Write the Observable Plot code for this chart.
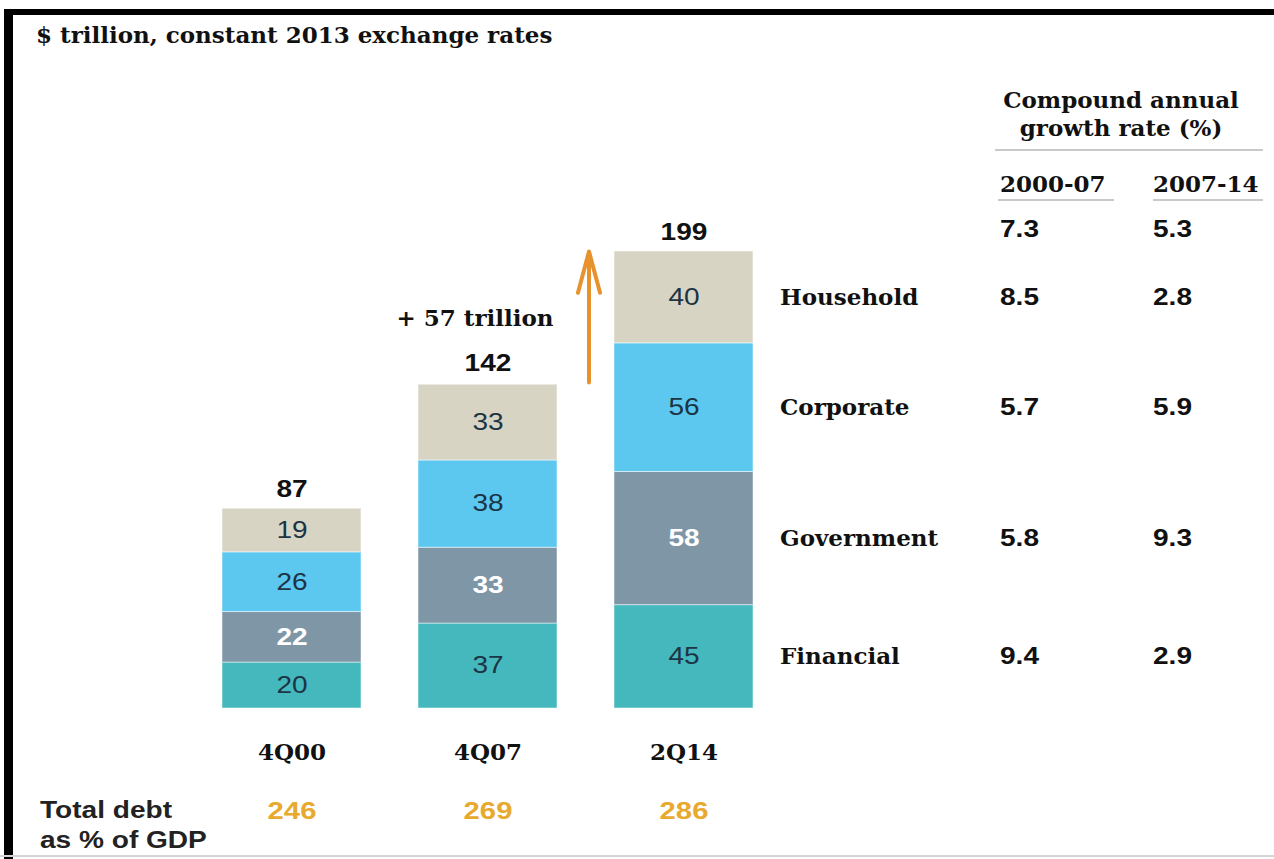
<!DOCTYPE html>
<html>
<head>
<meta charset="utf-8">
<script src="https://cdn.jsdelivr.net/npm/d3@7"></script>
<script src="https://cdn.jsdelivr.net/npm/@observablehq/plot@0.6"></script>
<style>
  body { margin: 0; background: #fff; }
  #wrap { position: relative; width: 1274px; height: 859px; overflow: hidden; background: #fff; }
  #wrap svg { position: absolute; left: 0; top: 0; }
  .slab { font-family: "DejaVu Serif", serif; font-weight: bold; color: #111; position: absolute; white-space: nowrap; font-size: 23px; line-height: 28px; }
  .sans { font-family: "Liberation Sans", Arial, sans-serif; font-weight: bold; color: #222; position: absolute; white-space: nowrap;
          transform: scaleX(1.22); transform-origin: left center; }
  .rule { position: absolute; height: 2px; background: #c9c9c9; }
  .edge { position: absolute; background: #000; }
</style>
</head>
<body>
<div id="wrap">
  <div class="edge" style="left:8px; top:9px; width:1266px; height:6px;"></div>
  <div class="edge" style="left:4px; top:9px; width:9px; height:850px;"></div>
  <div style="position:absolute; left:0; top:855px; width:1274px; height:2px; background:#d4d4d4;"></div>

  <div class="slab" style="left:36px; top:21px;">$ trillion, constant 2013 exchange rates</div>

  <div class="slab" style="left:996px; top:86px; width:250px; text-align:center;">Compound annual<br>growth rate (%)</div>
  <div class="rule" style="left:995px; top:149px; width:268px;"></div>
  <div class="slab" style="left:1000px; top:170px;">2000-07</div>
  <div class="slab" style="left:1153px; top:170px;">2007-14</div>
  <div class="rule" style="left:998px; top:199px; width:116px;"></div>
  <div class="rule" style="left:1153px; top:199px; width:110px;"></div>

  <div class="sans" style="left:40px; top:795px; font-size:23px; line-height:30px;">Total debt<br>as % of GDP</div>
</div>
<script>
// Global debt stock by sector, $ trillion at constant 2013 exchange rates
const periods = ["4Q00", "4Q07", "2Q14"];
const sectors = ["Financial", "Government", "Corporate", "Household"]; // bottom to top
const sectorColors = ["#44b8bd", "#7f96a7", "#5cc8ef", "#d8d4c4"];

const financial = [20, 37, 45];
const government = [22, 33, 58];
const corporate = [26, 38, 56];
const household = [19, 33, 40];
const totals = [87, 142, 199];

// Total debt as % of GDP
const debtToGdp = [246, 269, 286];

// Compound annual growth rate (%), listed in sector order, plus the total
const cagr2000to07 = [9.4, 5.8, 5.7, 8.5];
const cagr2007to14 = [2.9, 9.3, 5.9, 2.8];
const cagrTotal2000to07 = 7.3;
const cagrTotal2007to14 = 5.3;

const bySector = {Financial: financial, Government: government, Corporate: corporate, Household: household};
const rows = periods.flatMap((p, i) => sectors.map((s) => ({period: p, sector: s, value: bySector[s][i]})));
const totalRows = periods.map((p, i) => ({period: p, total: totals[i], ratio: debtToGdp[i]}));
const n = periods.length;
const last = periods[n - 1];
const tableRows = sectors.map((s, j) => ({
  period: last, sector: s, value: bySector[s][n - 1],
  early: cagr2000to07[j], late: cagr2007to14[j]
}));
const totalGrowth = [{period: last, total: totals[n - 1], early: cagrTotal2000to07, late: cagrTotal2007to14}];
const growth = [{period: periods[n - 2], at: last, from: totals[n - 2], to: totals[n - 1]}];

const slab = "DejaVu Serif";
const sans = "Liberation Sans";
const ink = "#1c3444";

const chart = Plot.plot({
  width: 1274,
  height: 859,
  margin: 0,
  x: {domain: periods, range: [164, 812], padding: 0.29, axis: null},
  y: {domain: [0, d3.max(totals)], range: [708, 251], axis: null},
  color: {domain: sectors, range: sectorColors},
  style: {background: "transparent", overflow: "visible"},
  marks: [
    // stacked sector bars
    Plot.barY(rows, {x: "period", y: "value", fill: "sector", stroke: "#fff", strokeWidth: 1, strokeOpacity: 0.5}),
    // segment values (government in white, others dark)
    Plot.text(rows, Plot.stackY({
      x: "period", y: "value",
      text: (d) => d.sector === "Government" ? "" : String(d.value),
      fill: ink, fontFamily: sans, fontSize: 23
    })),
    Plot.text(rows, Plot.stackY({
      x: "period", y: "value",
      text: (d) => d.sector === "Government" ? String(d.value) : "",
      fill: "#fff", fontFamily: sans, fontWeight: "bold", fontSize: 23
    })),
    // bar totals
    Plot.text(totalRows, {x: "period", y: "total", text: (d) => String(d.total), dy: -19,
      fill: "#111", fontFamily: sans, fontWeight: "bold", fontSize: 23}),
    // period labels
    Plot.text(totalRows, {x: "period", y: 0, text: "period", dy: 44,
      fill: "#111", fontFamily: slab, fontWeight: "bold", fontSize: 23}),
    // debt-to-GDP ratios
    Plot.text(totalRows, {x: "period", y: 0, text: (d) => String(d.ratio), dy: 103,
      fill: "#e8a92f", fontFamily: sans, fontWeight: "bold", fontSize: 24}),
    // growth between the last two periods
    Plot.arrow(growth, {x1: "at", x2: "at", y1: "from", y2: "to", dx: -95,
      stroke: "#e8922e", strokeWidth: 4, headLength: 16, headAngle: 30}),
    Plot.text(growth, {x: "period", y: "from", text: (d) => `+ ${d.to - d.from} trillion`, dx: -13, dy: -64,
      fill: "#111", fontFamily: slab, fontWeight: "bold", fontSize: 23}),
    // sector names and growth rates aligned with the latest bar
    Plot.text(tableRows, Plot.stackY({x: "period", y: "value", text: "sector", dx: 96, textAnchor: "start",
      fill: "#111", fontFamily: slab, fontWeight: "bold", fontSize: 23})),
    Plot.text(tableRows, Plot.stackY({x: "period", y: "value", text: (d) => d.early.toFixed(1), dx: 316, textAnchor: "start",
      fill: "#111", fontFamily: sans, fontWeight: "bold", fontSize: 23})),
    Plot.text(tableRows, Plot.stackY({x: "period", y: "value", text: (d) => d.late.toFixed(1), dx: 469, textAnchor: "start",
      fill: "#111", fontFamily: sans, fontWeight: "bold", fontSize: 23})),
    Plot.text(totalGrowth, {x: "period", y: "total", text: (d) => d.early.toFixed(1),
      dx: 316, dy: -22, textAnchor: "start", fill: "#111", fontFamily: sans, fontWeight: "bold", fontSize: 23}),
    Plot.text(totalGrowth, {x: "period", y: "total", text: (d) => d.late.toFixed(1),
      dx: 469, dy: -22, textAnchor: "start", fill: "#111", fontFamily: sans, fontWeight: "bold", fontSize: 23})
  ]
});

// The sans-serif figures are set slightly wide: stretch each label about its own anchor
d3.select(chart).selectAll(`g[font-family="${sans}"] text`).attr("transform", function () {
  return (this.getAttribute("transform") || "") + " scale(1.22,1)";
});

document.getElementById("wrap").prepend(chart);
</script>
</body>
</html>
